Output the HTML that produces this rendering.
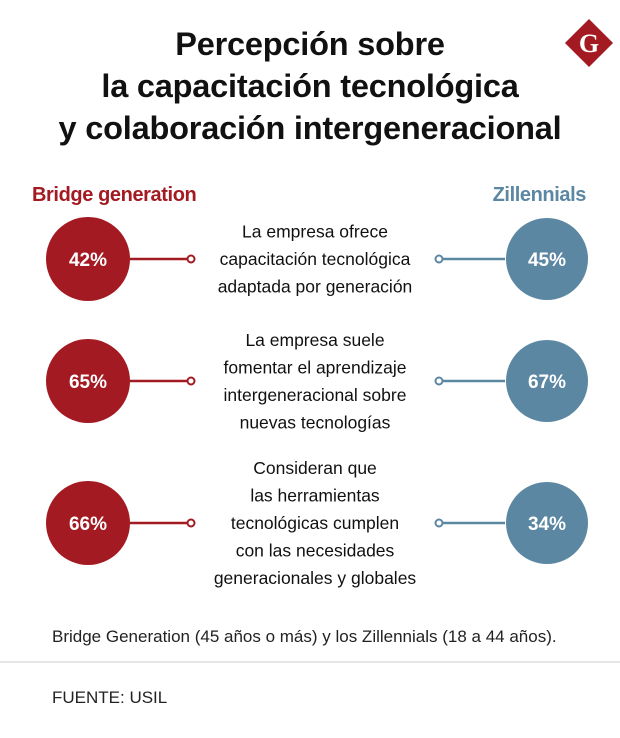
<!DOCTYPE html>
<html><head><meta charset="utf-8"><style>
body{margin:0;background:#fff;}
svg{display:block;font-family:"Liberation Sans",sans-serif;}
</style></head><body>
<svg width="620" height="738" viewBox="0 0 620 738">
<g font-weight="bold" font-size="32.5" fill="#111" text-anchor="middle" letter-spacing="-0.2">
<text x="310" y="55">Percepción sobre</text>
<text x="310" y="97">la capacitación tecnológica</text>
<text x="310" y="139">y colaboración intergeneracional</text>
</g>
<g>
<rect x="572" y="26" width="34" height="34" fill="#a31a22" transform="rotate(45 589 43)"/>
<text x="589" y="52" text-anchor="middle" font-family="Liberation Serif,serif" font-weight="bold" font-size="26" fill="#fff">G</text>
</g>
<text x="32" y="201" font-size="20" font-weight="bold" fill="#a31a22" letter-spacing="-0.4">Bridge generation</text>
<text x="586" y="201" text-anchor="end" font-size="20" font-weight="bold" fill="#5b87a3" letter-spacing="-0.4">Zillennials</text>
<g id="rows"></g>
<text x="52" y="642" font-size="17" fill="#222">Bridge Generation (45 años o más) y los Zillennials (18 a 44 años).</text>
<line x1="0" y1="662" x2="620" y2="662" stroke="#ccc" stroke-width="1"/>
<text x="52" y="703" font-size="17" fill="#222">FUENTE: USIL</text>
</svg>
<script>
const bridgeValues=[42,65,66];
const zillValues=[45,67,34];
const questions=[
["La empresa ofrece","capacitación tecnológica","adaptada por generación"],
["La empresa suele","fomentar el aprendizaje","intergeneracional sobre","nuevas tecnologías"],
["Consideran que","las herramientas","tecnológicas cumplen","con las necesidades","generacionales y globales"]];
const rowY=[259,381,523];
const NS="http://www.w3.org/2000/svg";
const g=document.getElementById('rows');
function mk(t,a){const e=document.createElementNS(NS,t);for(const k in a)e.setAttribute(k,a[k]);return e;}
questions.forEach((q,i)=>{
const y=rowY[i];
const red="#a31a22",blue="#5b87a3";
let e=mk('line',{x1:130,y1:y,x2:188,y2:y,stroke:red,'stroke-width':2.5});

g.appendChild(e);
e=mk('circle',{cx:191,cy:y,r:3.5,fill:'#fff',stroke:red,'stroke-width':2});

g.appendChild(e);
e=mk('line',{x1:442,y1:y,x2:505,y2:y,stroke:blue,'stroke-width':2.5});

g.appendChild(e);
e=mk('circle',{cx:439,cy:y,r:3.5,fill:'#fff',stroke:blue,'stroke-width':2});

g.appendChild(e);
e=mk('circle',{cx:88,cy:y,r:42,fill:red});

g.appendChild(e);
e=mk('circle',{cx:547,cy:y,r:41,fill:blue});

g.appendChild(e);
e=mk('text',{x:88,y:y+7,'text-anchor':'middle','font-size':19,'font-weight':'bold',fill:'#fff'});
e.textContent=bridgeValues[i]+'%';

g.appendChild(e);
e=mk('text',{x:547,y:y+7,'text-anchor':'middle','font-size':19,'font-weight':'bold',fill:'#fff'});
e.textContent=zillValues[i]+'%';

g.appendChild(e);
const n=q.length,lh=27.5,top=y-(n-1)*lh/2;
q.forEach((s,j)=>{
const t=mk('text',{x:315,y:top+j*lh+6,'text-anchor':'middle','font-size':17.5,fill:'#111'});
t.textContent=s;

g.appendChild(t);
});
});
</script>
</body></html>
